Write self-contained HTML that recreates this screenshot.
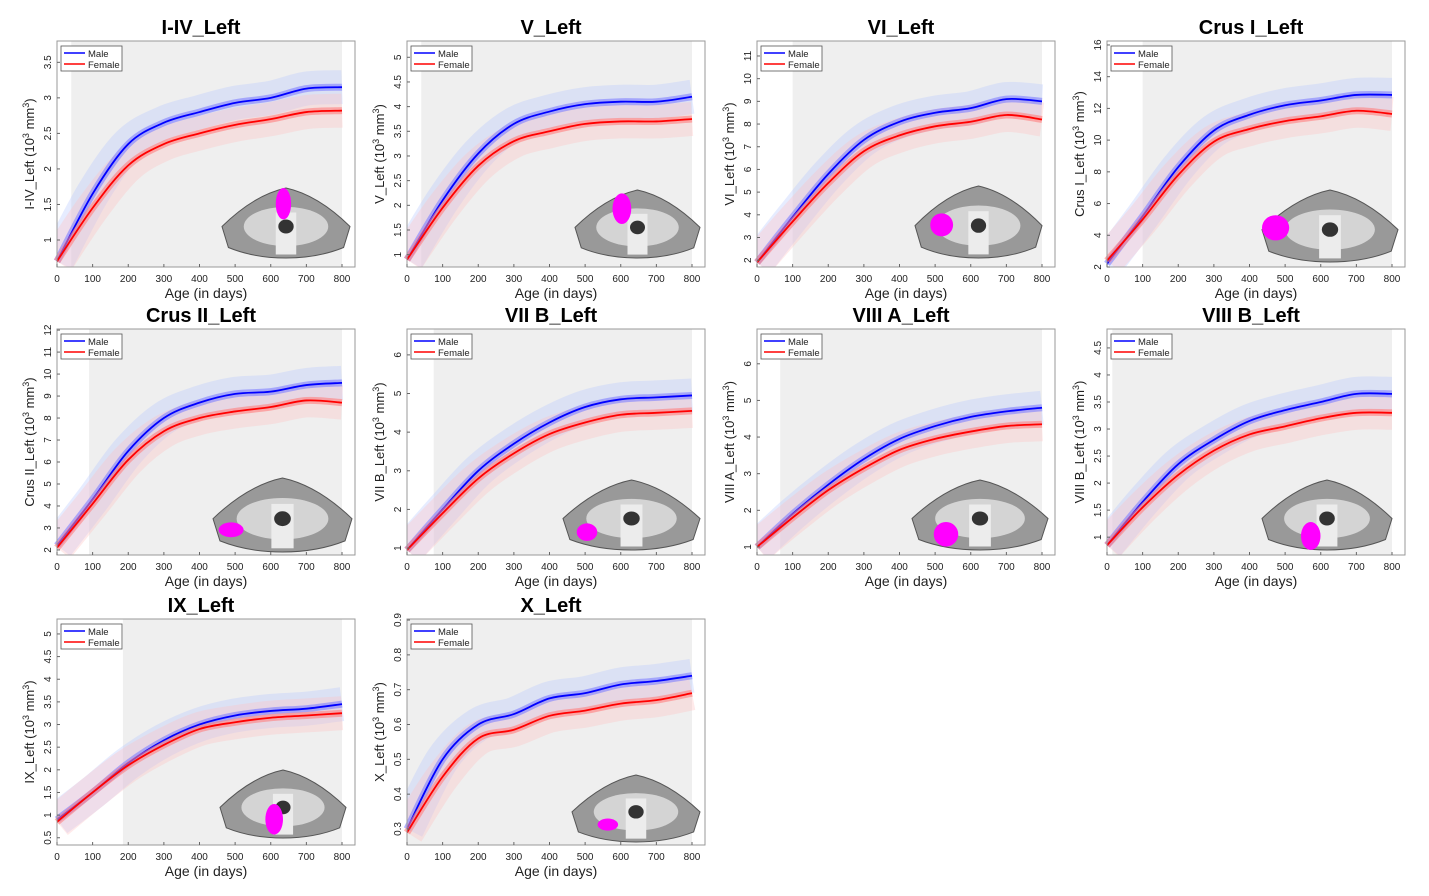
<!DOCTYPE html>
<html><head><meta charset="utf-8"><style>
html,body{margin:0;padding:0;background:#fff;}
svg{display:block;font-family:"Liberation Sans",Arial,sans-serif;}
</style></head><body>
<svg id="fig" width="1429" height="896" viewBox="0 0 1429 896" xmlns="http://www.w3.org/2000/svg"></svg>
<script>
const ages = [0,100,200,300,400,500,600,700,800];
const xTicks = [0,100,200,300,400,500,600,700,800];
const titles = ["I-IV_Left","V_Left","VI_Left","Crus I_Left","Crus II_Left","VII B_Left","VIII A_Left","VIII B_Left","IX_Left","X_Left"];
const maleI_IV = [0.7,1.65,2.35,2.65,2.8,2.93,3.0,3.13,3.15];
const femaleI_IV = [0.7,1.45,2.05,2.35,2.5,2.62,2.7,2.8,2.82];
const maleV = [0.9,2.1,3.05,3.65,3.9,4.05,4.1,4.1,4.2];
const femaleV = [0.9,1.95,2.8,3.3,3.5,3.65,3.7,3.7,3.75];
const maleVI = [1.9,3.9,5.8,7.3,8.1,8.5,8.7,9.1,9.0];
const femaleVI = [1.9,3.7,5.4,6.8,7.5,7.9,8.1,8.4,8.2];
const maleCrusI = [2.2,5.2,8.3,10.6,11.6,12.2,12.5,12.85,12.85];
const femaleCrusI = [2.4,5.0,7.8,9.9,10.7,11.2,11.5,11.85,11.65];
const maleCrusII = [2.2,4.3,6.5,8.0,8.7,9.1,9.2,9.5,9.6];
const femaleCrusII = [2.1,4.1,6.1,7.4,8.0,8.3,8.5,8.8,8.7];
const maleVIIB = [0.95,2.0,3.0,3.7,4.25,4.65,4.85,4.9,4.95];
const femaleVIIB = [0.95,1.9,2.8,3.45,3.95,4.25,4.45,4.5,4.55];
const maleVIIIA = [1.0,1.9,2.7,3.4,3.95,4.3,4.55,4.7,4.8];
const femaleVIIIA = [1.0,1.8,2.55,3.15,3.65,3.95,4.15,4.3,4.35];
const maleVIIIB = [0.85,1.65,2.35,2.8,3.15,3.35,3.5,3.65,3.65];
const femaleVIIIB = [0.85,1.55,2.15,2.6,2.9,3.05,3.2,3.3,3.3];
const maleIX = [0.9,1.5,2.15,2.65,3.0,3.2,3.3,3.35,3.45];
const femaleIX = [0.85,1.5,2.1,2.55,2.9,3.05,3.15,3.2,3.25];
const maleX = [0.3,0.5,0.6,0.63,0.675,0.69,0.715,0.725,0.74];
const femaleX = [0.29,0.45,0.56,0.585,0.625,0.64,0.66,0.67,0.69];
const maleSeries = [maleI_IV,maleV,maleVI,maleCrusI,maleCrusII,maleVIIB,maleVIIIA,maleVIIIB,maleIX,maleX];
const femaleSeries = [femaleI_IV,femaleV,femaleVI,femaleCrusI,femaleCrusII,femaleVIIB,femaleVIIIA,femaleVIIIB,femaleIX,femaleX];
const yMins = [0.62,0.75,1.7,2.0,1.77,0.82,0.78,0.67,0.34,0.254];
const yMaxs = [3.8,5.33,11.66,16.25,12.05,6.67,6.95,4.85,5.33,0.903];
const yTickSets = [
 [1,1.5,2,2.5,3,3.5],[1,1.5,2,2.5,3,3.5,4,4.5,5],[2,3,4,5,6,7,8,9,10,11],[2,4,6,8,10,12,14,16],
 [2,3,4,5,6,7,8,9,10,11,12],[1,2,3,4,5,6],[1,2,3,4,5,6],[1,1.5,2,2.5,3,3.5,4,4.5],
 [0.5,1,1.5,2,2.5,3,3.5,4,4.5,5],[0.3,0.4,0.5,0.6,0.7,0.8,0.9]];
const shadeStarts = [40,40,100,100,90,75,65,15,185,0];
const insets = [[222,188,128,70,0.42,0,0.12,0.45],[575,190,125,68,0.3,0.05,0.15,0.45],[915,186,127,72,0.12,0.38,0.18,0.32],[1262,190,136,72,0.0,0.35,0.2,0.35],
 [213,478,139,74,0.04,0.6,0.18,0.2],[563,480,137,70,0.1,0.62,0.15,0.25],[912,480,136,70,0.16,0.6,0.18,0.35],[1262,480,130,70,0.3,0.6,0.15,0.4],
 [220,770,126,68,0.36,0.5,0.14,0.45],[572,775,128,67,0.2,0.65,0.16,0.18]];

const NS="http://www.w3.org/2000/svg";
const svg=document.getElementById('fig');
function mk(tag,attrs,parent){const e=document.createElementNS(NS,tag);for(const k in attrs)e.setAttribute(k,attrs[k]);(parent||svg).appendChild(e);return e;}
function smooth(pts){let d=`M${pts[0][0]},${pts[0][1]}`;for(let i=0;i<pts.length-1;i++){const p0=pts[Math.max(0,i-1)],p1=pts[i],p2=pts[i+1],p3=pts[Math.min(pts.length-1,i+2)];
 d+=` C${p1[0]+(p2[0]-p0[0])/6},${p1[1]+(p2[1]-p0[1])/6} ${p2[0]-(p3[0]-p1[0])/6},${p2[1]-(p3[1]-p1[1])/6} ${p2[0]},${p2[1]}`;}return d;}

const lefts=[57,407,757,1107], tops=[41,329,619], W=298, H=226;
for(let p=0;p<10;p++){
 const L=lefts[p%4], T=tops[Math.floor(p/4)], B=T+H;
 const g=mk('g',{});
 
 
 const xs=v=>L+v*285/800;
 const ys=v=>B-(v-yMins[p])/(yMaxs[p]-yMins[p])*H;
 mk('clipPath',{id:'clip'+p},g);
 mk('rect',{x:L,y:T,width:W,height:H},g.lastChild);
 mk('rect',{x:L,y:T,width:W,height:H,fill:'#fff'},g);
 const sh=mk('rect',{x:xs(shadeStarts[p]),y:T,width:xs(800)-xs(shadeStarts[p]),height:H,fill:'#efefef'},g);
 
 
 // haze of individual trajectories (around means)
 const cg=mk('g',{'clip-path':`url(#clip${p})`},g);
 const hazes=[['male',maleSeries[p],'#b8c8ff'],['female',femaleSeries[p],'#ffc4c4']];
 for(const [nm,vals,c] of hazes){
  const pts=ages.map((a,i)=>[xs(a),ys(vals[i])]);
  const hz=mk('path',{d:smooth(pts),fill:'none',stroke:c,'stroke-width':34,'stroke-opacity':0.35},cg);
  
  
 }
 // inset brain
 const [ix,iy,iw,ih,mx,my,mw,mh]=insets[p];
 const br=mk('g',{},g);
 
 
 mk('path',{d:`M${ix},${iy+ih*0.55} Q${ix+iw*0.25},${iy+ih*0.1} ${ix+iw*0.5},${iy} Q${ix+iw*0.75},${iy+ih*0.1} ${ix+iw},${iy+ih*0.55} L${ix+iw*0.95},${iy+ih*0.85} Q${ix+iw*0.75},${iy+ih} ${ix+iw*0.5},${iy+ih} Q${ix+iw*0.25},${iy+ih} ${ix+iw*0.05},${iy+ih*0.85} Z`,fill:'#999',stroke:'#555','stroke-width':1},br);
 mk('ellipse',{cx:ix+iw*0.5,cy:iy+ih*0.55,rx:iw*0.33,ry:ih*0.28,fill:'#d4d4d4'},br);
 mk('rect',{x:ix+iw*0.42,y:iy+ih*0.35,width:iw*0.16,height:ih*0.6,fill:'#ececec'},br);
 mk('ellipse',{cx:ix+iw*0.5,cy:iy+ih*0.55,rx:iw*0.06,ry:ih*0.1,fill:'#333'},br);
 mk('ellipse',{cx:ix+(mx+mw/2)*iw,cy:iy+(my+mh/2)*ih,rx:mw*iw/2,ry:mh*ih/2,fill:'#ff00ff'},br);
 // curves
 const sexes=[['male',maleSeries[p],'#0000ff','#7f7fff'],['female',femaleSeries[p],'#ff0000','#ff7f7f']];
 for(const [nm,vals,c,bc] of sexes){
  const pts=ages.map((a,i)=>[xs(a),ys(vals[i])]);
  const band=mk('path',{d:smooth(pts),fill:'none',stroke:bc,'stroke-width':7,'stroke-opacity':0.6,'stroke-linecap':'butt'},g);
  
  
  const ln=mk('path',{d:smooth(pts),fill:'none',stroke:c,'stroke-width':1.8},g);
  
  
 }
 mk('rect',{x:L,y:T,width:W,height:H,fill:'none',stroke:'#999','stroke-width':1},g);
 for(const t of xTicks){
  mk('line',{x1:xs(t),x2:xs(t),y1:B,y2:B-3,stroke:'#666'},g);
  const tx=mk('text',{x:xs(t),y:B+15,'font-size':10,'text-anchor':'middle',fill:'#222'},g);
  tx.textContent=t;
  
  
 }
 for(const t of yTickSets[p]){
  const y=ys(t);
  mk('line',{x1:L,x2:L+3,y1:y,y2:y,stroke:'#666'},g);
  const ty=mk('text',{x:L-6,y:y,'font-size':10,'text-anchor':'middle',fill:'#222',transform:`rotate(-90 ${L-6} ${y})`},g);
  ty.textContent=String(t);
  
  
 }
 const xl=mk('text',{x:L+W/2,y:B+31,'font-size':14,'text-anchor':'middle',fill:'#222'},g);
 xl.textContent='Age (in days)';
 
 
 const yx=L-23, yy=T+H/2;
 const yl=mk('text',{x:yx,y:yy,'font-size':13,'text-anchor':'middle',fill:'#222',transform:`rotate(-90 ${yx} ${yy})`},g);
 
 
 yl.innerHTML=`${titles[p]} (10<tspan dy="-5" font-size="9">3</tspan><tspan dy="5"> mm</tspan><tspan dy="-5" font-size="9">3</tspan><tspan dy="5">)</tspan>`;
 const ti=mk('text',{x:L+W/2-5,y:T-7,'font-size':20,'font-weight':'bold','text-anchor':'middle',fill:'#000'},g);
 ti.textContent=titles[p];
 
 
 const lg=mk('g',{},g);
 
 
 mk('rect',{x:L+4,y:T+5,width:61,height:25,fill:'#fff',stroke:'#555','stroke-width':0.8},lg);
 mk('line',{x1:L+7,x2:L+28,y1:T+12,y2:T+12,stroke:'#0000ff','stroke-width':1.5},lg);
 mk('line',{x1:L+7,x2:L+28,y1:T+23,y2:T+23,stroke:'#ff0000','stroke-width':1.5},lg);
 const t1=mk('text',{x:L+31,y:T+16,'font-size':9.5,fill:'#222'},lg);t1.textContent='Male';
 
 
 const t2=mk('text',{x:L+31,y:T+27,'font-size':9.5,fill:'#222'},lg);t2.textContent='Female';
 
 
}
</script>
</body></html>
